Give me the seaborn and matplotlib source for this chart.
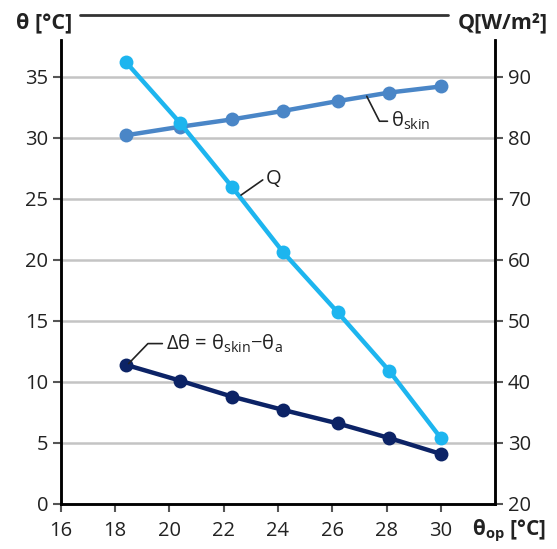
import numpy as np
import pandas as pd
import matplotlib
matplotlib.use('Agg')
import matplotlib.pyplot as plt
import seaborn as sns
from matplotlib.lines import Line2D

# data
theta_op = [18.4, 20.4, 22.3, 24.2, 26.2, 28.1, 30.0]
theta_skin = [30.2, 30.9, 31.5, 32.2, 33.0, 33.7, 34.2]
delta_theta = [11.4, 10.1, 8.8, 7.7, 6.6, 5.4, 4.1]
q_flux = [92.4, 82.4, 72.0, 61.2, 51.4, 41.8, 30.8]

left_ticks = [0, 5, 10, 15, 20, 25, 30, 35]
right_ticks = [20, 30, 40, 50, 60, 70, 80, 90]
x_ticks = [16, 18, 20, 22, 24, 26, 28, 30]

c_q = '#1DB5EF'
c_skin = '#4A86C7'
c_delta = '#0C2366'

sns.set_style('white')
plt.rcParams['font.family'] = ['Open Sans', 'DejaVu Sans']
plt.rcParams['mathtext.fontset'] = 'custom'
plt.rcParams['mathtext.rm'] = 'Open Sans'
plt.rcParams['mathtext.it'] = 'Open Sans:italic'
plt.rcParams['mathtext.bf'] = 'Open Sans:bold'
fs = 14.5
txt = '#222222'

df = pd.DataFrame({'op': theta_op, 'skin': theta_skin, 'delta': delta_theta, 'q': q_flux})

fig = plt.figure(figsize=(5.57, 5.49), dpi=100)
ax = fig.add_axes([0.109, 0.082, 0.78, 0.845])
ax2 = ax.twinx()

ax.grid(False)
ax2.grid(False)
for t in left_ticks[1:]:
    ax.axhline(t, color='#C4C4C4', lw=1.8, zorder=0)

line_kw = dict(marker='o', markersize=10, linewidth=3.2, markeredgewidth=0)
sns.lineplot(data=df, x='op', y='skin', ax=ax, color=c_skin, **line_kw)
sns.lineplot(data=df, x='op', y='delta', ax=ax, color=c_delta, **line_kw)
sns.lineplot(data=df, x='op', y='q', ax=ax2, color=c_q, **line_kw)

ax.set_xlim(16, 32)
ax.set_ylim(0, 38)
ax2.set_ylim(20, 96)
ax.set_xticks(x_ticks)
ax.set_yticks(left_ticks)
ax2.set_yticks(right_ticks)
ax.set_xlabel('')
ax.set_ylabel('')
ax2.set_ylabel('')

for a in (ax, ax2):
    a.spines['top'].set_visible(False)
    for s in ('left', 'right', 'bottom'):
        a.spines[s].set_color('black')
        a.spines[s].set_linewidth(1.8)
    a.tick_params(length=6, width=1.5, color='#555555', labelsize=fs, labelcolor=txt)
ax.tick_params(axis='x', bottom=True, pad=6)
ax.tick_params(axis='y', left=True, pad=3)
ax2.tick_params(axis='y', right=True, pad=3)

# leader-line labels
arrow = dict(arrowstyle='-', color='#222222', lw=1.2, shrinkA=0, shrinkB=0)
ax2.annotate('Q', xy=(22.64, 70.6), xytext=(25, 16), textcoords='offset pixels',
             fontsize=fs, ha='left', va='center', color=txt,
             arrowprops=dict(connectionstyle='angle,angleA=0,angleB=35,rad=0', **arrow))
ax.annotate(r'θ$_{\rm skin}$', xy=(27.27, 33.4), xytext=(24, -25), textcoords='offset pixels',
            fontsize=fs, ha='left', va='center', color=txt,
            arrowprops=dict(connectionstyle='angle,angleA=0,angleB=-63,rad=0', **arrow))
ax.annotate(r'Δθ = θ$_{\rm skin}$−θ$_{\rm a}$', xy=(18.5, 11.5), xytext=(37, 20),
            textcoords='offset pixels', fontsize=fs, ha='left', va='center', color=txt,
            arrowprops=dict(connectionstyle='angle,angleA=0,angleB=46,rad=0', **arrow))

# axis titles
fig.text(16 / 557, 1 - 23 / 549, 'θ [°C]', fontsize=15.5, fontweight='bold', ha='left', va='center', color=txt)
fig.text(548 / 557, 1 - 23 / 549, 'Q[W/m²]', fontsize=15.5, fontweight='bold', ha='right', va='center', color=txt)
fig.text(546 / 557, 1 - 531 / 549, r'θ$_{\bf op}$ [°C]', fontsize=15, fontweight='bold', ha='right', va='center', color=txt)
fig.add_artist(Line2D([80 / 557, 448 / 557], [1 - 15 / 549] * 2, color='#333333', lw=2))

fig.savefig('out.png', dpi=100)
